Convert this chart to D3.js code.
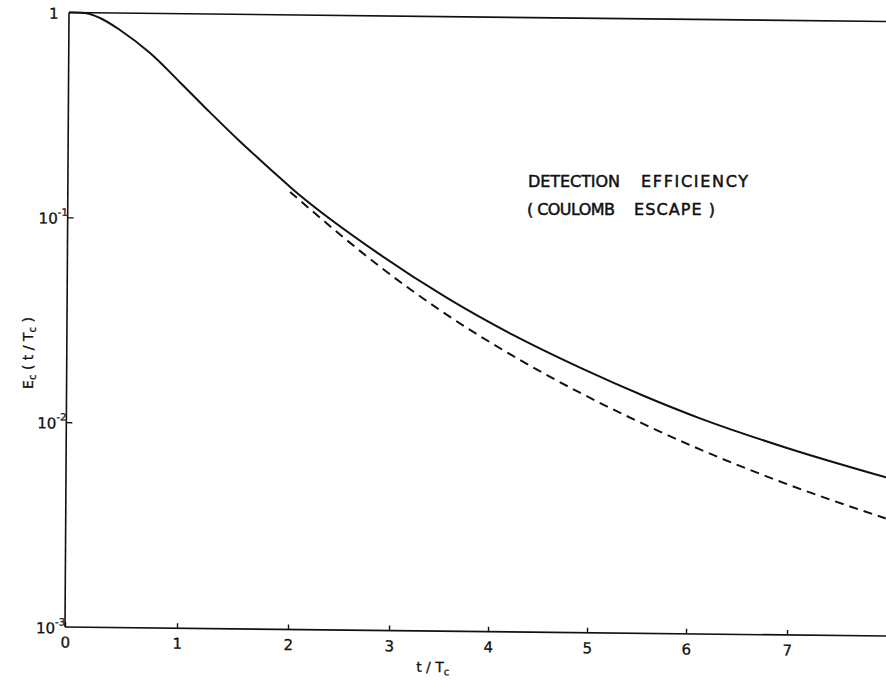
<!DOCTYPE html>
<html><head><meta charset="utf-8">
<script src="https://cdn.jsdelivr.net/npm/d3@7/dist/d3.min.js"></script>
<style>
html,body{margin:0;padding:0;background:#fff;}
svg{display:block;}
text{font-family:"DejaVu Sans",sans-serif;fill:#111;}
</style>
</head><body>
<svg id="chart" width="886" height="680"></svg>
<script>
// ---- data ----
const xTicks = [0, 1, 2, 3, 4, 5, 6, 7];
const yTicks = [1, 0.1, 0.01, 0.001];
const yTickExp = ["", "-1", "-2", "-3"];

// solid curve: detection efficiency E_c(t/T_c)
const solidT = [0, 0.054, 0.143, 0.277, 0.456, 0.726, 0.996, 1.267, 1.539, 1.811, 2.021, 2.887, 3.564, 4.233, 4.912, 5.591, 6.125, 6.988, 7.99];
const solidE = [1.0, 1.0, 0.997, 0.944, 0.827, 0.640, 0.462, 0.331, 0.2395, 0.1767, 0.1406, 0.0683, 0.04238, 0.02818, 0.01967, 0.01422, 0.01129, 0.00818, 0.00595];

// dashed curve
const dashedT = [1.993, 2.887, 3.565, 4.234, 4.913, 5.593, 6.127, 6.99, 7.99];
const dashedE = [0.1368, 0.0597, 0.0350, 0.02226, 0.01484, 0.01033, 0.00796, 0.00545, 0.00375];

const annotLine1 = ["DETECTION", "EFFICIENCY"];
const annotLine2 = ["( COULOMB", "ESCAPE )"];
const xTitle = "t / T";
const xTitleSub = "c";

// ---- drawing ----
const svg = d3.select("#chart");
const ink = "#111";

// scanned figure: tick spacing is slightly uneven, so a piecewise scale
const x = d3.scaleLinear()
  .domain([0, 1, 2, 3, 4, 5, 6, 7, 8])
  .range([65, 177, 288, 389, 488, 587, 686, 787, 886]);
const y = d3.scaleLog().domain([0.001, 1]).range([627, 12.5]);

// the scan is slightly skewed; reproduce with an affine transform
const g = svg.append("g")
  .attr("transform", "matrix(1,0.011,-0.0065,1,4.08,-0.715)");

// frame lines
g.append("line").attr("x1", x(0)).attr("x2", x(8.3)).attr("y1", y(1)).attr("y2", y(1))
  .attr("stroke", ink).attr("stroke-width", 1.6);
g.append("line").attr("x1", x(0)).attr("x2", x(0)).attr("y1", y(1)).attr("y2", y(0.001))
  .attr("stroke", ink).attr("stroke-width", 1.6);
g.append("line").attr("x1", x(0)).attr("x2", x(8.3)).attr("y1", y(0.001)).attr("y2", y(0.001))
  .attr("stroke", ink).attr("stroke-width", 1.6);

// bottom axis (inward ticks)
const xAxis = d3.axisBottom(x).tickValues(xTicks).tickSize(-5).tickPadding(10)
  .tickFormat(d3.format("d"));
const gx = g.append("g").attr("transform", `translate(0,${y(0.001)})`).call(xAxis);
gx.select(".domain").remove();
gx.selectAll(".tick line").attr("stroke", ink).attr("stroke-width", 1.4);
gx.selectAll(".tick text").attr("font-size", 15).attr("fill", ink)
  .attr("stroke", ink).attr("stroke-width", 0.3)
  .style("font-family", '"DejaVu Sans",sans-serif');

// left axis (inward ticks)
const yAxis = d3.axisLeft(y).tickValues([0.1, 0.01]).tickSize(-6).tickFormat("");
const gy = g.append("g").attr("transform", `translate(${x(0)},0)`).call(yAxis);
gy.select(".domain").remove();
gy.selectAll(".tick line").attr("stroke", ink).attr("stroke-width", 1.4);

// y tick labels with superscripts
yTicks.forEach((v, i) => {
  const t = g.append("text").attr("font-size", 15)
    .attr("stroke", ink).attr("stroke-width", 0.3)
    .attr("y", y(v) + 6.5);
  if (yTickExp[i] === "") {
    t.attr("x", 45).text("1");
  } else {
    t.attr("x", 36).text("10");
    t.append("tspan").attr("font-size", 10).attr("dy", -8).text(yTickExp[i]);
  }
});

// curves
const line = d3.line().x(d => x(d[0])).y(d => y(d[1])).curve(d3.curveMonotoneX);
g.append("path").datum(solidT.map((t, i) => [t, solidE[i]]))
  .attr("d", line).attr("fill", "none").attr("stroke", ink).attr("stroke-width", 2);
g.append("path").datum(dashedT.map((t, i) => [t, dashedE[i]]))
  .attr("d", line).attr("fill", "none").attr("stroke", ink).attr("stroke-width", 2)
  .attr("stroke-dasharray", "9,6");

// axis titles
const xt = g.append("text").attr("x", 433).attr("y", 668).attr("text-anchor", "middle")
  .attr("font-size", 14).attr("stroke", ink).attr("stroke-width", 0.3)
  .style("white-space", "pre").text(xTitle);
xt.append("tspan").attr("font-size", 10).attr("dy", 3).text(xTitleSub);

const yt = svg.append("text").attr("transform", "translate(33,353) rotate(-90)")
  .attr("text-anchor", "middle").attr("font-size", 14)
  .attr("stroke", ink).attr("stroke-width", 0.3).style("white-space", "pre");
yt.append("tspan").text("E");
yt.append("tspan").attr("font-size", 10).attr("dy", 3).text("c");
yt.append("tspan").attr("dy", -3).text(" ( t / T");
yt.append("tspan").attr("font-size", 10).attr("dy", 3).text("c");
yt.append("tspan").attr("dy", -3).text(" )");

// annotation
const ann = svg.append("g").attr("font-size", 16)
  .attr("stroke", ink).attr("stroke-width", 0.5);
const words = [
  {s: annotLine1[0], x: 528, y: 187, w: 92},
  {s: annotLine1[1], x: 641, y: 187, w: 107},
  {s: annotLine2[0], x: 527, y: 215, w: 88},
  {s: annotLine2[1], x: 634, y: 215, w: 81}
];
words.forEach(d => {
  ann.append("text").attr("x", d.x).attr("y", d.y)
    .attr("textLength", d.w).attr("lengthAdjust", "spacing")
    .style("white-space", "pre").text(d.s);
});
</script>
</body></html>
